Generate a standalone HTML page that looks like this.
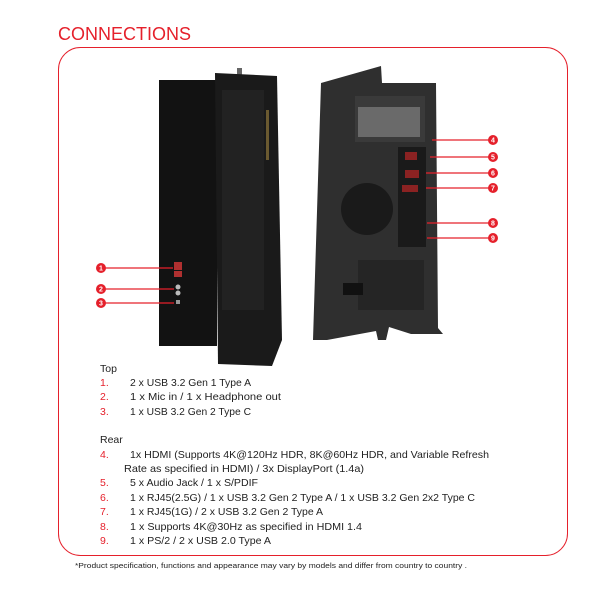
<!DOCTYPE html>
<html><head><style>
html,body{margin:0;padding:0;background:#fff;width:600px;height:600px;overflow:hidden}
svg{display:block}
text{font-family:"Liberation Sans",sans-serif}
</style></head><body>
<svg width="600" height="600" viewBox="0 0 600 600">
<text x="58" y="40" font-size="18" fill="#e5202b">CONNECTIONS</text>
<rect x="58.5" y="47.5" width="509" height="508" rx="22" fill="none" stroke="#e5202b" stroke-width="1"/>

<!-- front tower -->
<rect x="159" y="80" width="58" height="266" fill="#121212"/>
<rect x="237" y="68" width="5" height="8" fill="#666"/>
<polygon points="215,73 277,76 282,340 272,366 218,364" fill="#1a1a1a"/>
<rect x="222" y="90" width="42" height="220" fill="#222"/>
<rect x="266" y="110" width="3" height="50" fill="#6b5a30"/>
<rect x="174" y="262" width="8" height="8" fill="#b03030"/>
<rect x="174" y="271" width="8" height="6" fill="#b03030"/>
<circle cx="178" cy="287" r="2.5" fill="#bbb"/>
<circle cx="178" cy="293" r="2.5" fill="#bbb"/>
<rect x="176" y="300" width="4" height="4" fill="#999"/>
<!-- front callouts -->
<g stroke="#e5202b" stroke-width="1.3">
<line x1="101" y1="268" x2="173" y2="268"/>
<line x1="101" y1="289" x2="174" y2="289"/>
<line x1="101" y1="303" x2="174" y2="303"/>
</g>
<g fill="#e5202b"><circle cx="101" cy="268" r="5"/><circle cx="101" cy="289" r="5"/><circle cx="101" cy="303" r="5"/></g>
<g fill="#fff" font-size="7" font-weight="bold" text-anchor="middle">
<text x="101" y="270.5">1</text><text x="101" y="291.5">2</text><text x="101" y="305.5">3</text></g>

<!-- rear tower -->
<polygon points="321,83 381,66 382,83 436,83 438,328 443,334 411,334 389,327 386,340 378,340 376,331 327,340 313,340" fill="#2f2f2f"/>
<rect x="355" y="96" width="70" height="46" fill="#3a3a3a"/>
<rect x="358" y="107" width="62" height="30" fill="#6a6a6a"/>
<rect x="398" y="147" width="28" height="100" fill="#1a1a1a"/>
<rect x="405" y="152" width="12" height="8" fill="#8b2222"/>
<rect x="405" y="170" width="14" height="8" fill="#8b2222"/>
<rect x="402" y="185" width="16" height="7" fill="#8b2222"/>
<circle cx="367" cy="209" r="26" fill="#1a1a1a"/>
<rect x="358" y="260" width="66" height="50" fill="#252525"/>
<rect x="343" y="283" width="20" height="12" fill="#111"/>
<!-- rear callouts -->
<g stroke="#e5202b" stroke-width="1.3">
<line x1="432" y1="140" x2="493" y2="140"/>
<line x1="430" y1="157" x2="493" y2="157"/>
<line x1="426" y1="173" x2="493" y2="173"/>
<line x1="426" y1="188" x2="493" y2="188"/>
<line x1="427" y1="223" x2="493" y2="223"/>
<line x1="427" y1="238" x2="493" y2="238"/>
</g>
<g fill="#e5202b"><circle cx="493" cy="140" r="5"/><circle cx="493" cy="157" r="5"/><circle cx="493" cy="173" r="5"/><circle cx="493" cy="188" r="5"/><circle cx="493" cy="223" r="5"/><circle cx="493" cy="238" r="5"/></g>
<g fill="#fff" font-size="7" font-weight="bold" text-anchor="middle">
<text x="493" y="142.5">4</text><text x="493" y="159.5">5</text><text x="493" y="175.5">6</text><text x="493" y="190.5">7</text><text x="493" y="225.5">8</text><text x="493" y="240.5">9</text></g>

<!-- text list -->
<g font-size="10.5" fill="#222">
<text x="100" y="372">Top</text>
<text x="130" y="386" textLength="121" lengthAdjust="spacingAndGlyphs">2 x USB 3.2 Gen 1 Type A</text>
<text x="130" y="400" textLength="151" lengthAdjust="spacingAndGlyphs">1 x Mic in / 1 x Headphone out</text>
<text x="130" y="415" textLength="121" lengthAdjust="spacingAndGlyphs">1 x USB 3.2 Gen 2 Type C</text>
<text x="100" y="443">Rear</text>
<text x="130" y="458" textLength="359" lengthAdjust="spacingAndGlyphs">1x HDMI (Supports 4K@120Hz HDR, 8K@60Hz HDR, and Variable Refresh</text>
<text x="124" y="472" textLength="240" lengthAdjust="spacingAndGlyphs">Rate as specified in HDMI) / 3x DisplayPort (1.4a)</text>
<text x="130" y="486" textLength="128" lengthAdjust="spacingAndGlyphs">5 x Audio Jack / 1 x S/PDIF</text>
<text x="130" y="501" textLength="345" lengthAdjust="spacingAndGlyphs">1 x RJ45(2.5G) / 1 x USB 3.2 Gen 2 Type A / 1 x USB 3.2 Gen 2x2 Type C</text>
<text x="130" y="515" textLength="193" lengthAdjust="spacingAndGlyphs">1 x RJ45(1G) / 2 x USB 3.2 Gen 2 Type A</text>
<text x="130" y="530" textLength="232" lengthAdjust="spacingAndGlyphs">1 x Supports 4K@30Hz as specified in HDMI 1.4</text>
<text x="130" y="544" textLength="141" lengthAdjust="spacingAndGlyphs">1 x PS/2 / 2 x USB 2.0 Type A</text>
</g>
<g font-size="10.5" fill="#e5202b">
<text x="100" y="386">1.</text><text x="100" y="400">2.</text><text x="100" y="415">3.</text>
<text x="100" y="458">4.</text><text x="100" y="486">5.</text><text x="100" y="501">6.</text>
<text x="100" y="515">7.</text><text x="100" y="530">8.</text><text x="100" y="544">9.</text>
</g>
<text x="75" y="568" font-size="7.5" fill="#222" textLength="392" lengthAdjust="spacingAndGlyphs">*Product specification, functions and appearance may vary by models and differ from country to country .</text>
</svg>
</body></html>
